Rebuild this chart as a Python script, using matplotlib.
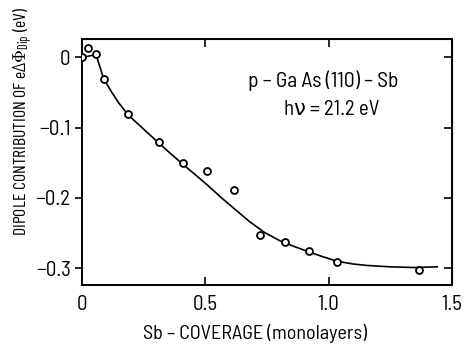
import matplotlib
matplotlib.use('Agg')
import matplotlib.pyplot as plt

# measured points
coverage = [0.0, 0.026, 0.057, 0.088, 0.188, 0.312, 0.409, 0.509, 0.617, 0.722, 0.823, 0.922, 1.034, 1.367]
dipole = [0.0, 0.014, 0.005, -0.031, -0.081, -0.121, -0.150, -0.162, -0.189, -0.253, -0.263, -0.275, -0.291, -0.302]

# hand-drawn fit curve
fit_x = [0.0, 0.03, 0.057, 0.072, 0.088, 0.12, 0.15, 0.188, 0.25, 0.312, 0.36, 0.409, 0.46, 0.51, 0.56, 0.62,
         0.681, 0.74, 0.803, 0.86, 0.922, 0.98, 1.034, 1.1, 1.154, 1.25, 1.35, 1.44]
fit_y = [0.0, 0.002, 0.004, -0.012, -0.030, -0.049, -0.065, -0.082, -0.102, -0.122, -0.137, -0.152, -0.167,
         -0.182, -0.198, -0.216, -0.234, -0.249, -0.261, -0.269, -0.277, -0.284, -0.290, -0.294, -0.296,
         -0.298, -0.299, -0.298]

x_ticks = [0, 0.5, 1.0, 1.5]
x_tick_labels = ['0', '0.5', '1.0', '1.5']
y_ticks = [0, -0.1, -0.2, -0.3]
y_tick_labels = ['0', '\u22120.1', '\u22120.2', '\u22120.3']

plt.rcParams['font.family'] = ['Barlow Semi Condensed', 'DejaVu Sans']
plt.rcParams['mathtext.fontset'] = 'custom'
plt.rcParams['mathtext.rm'] = 'Barlow Condensed'
plt.rcParams['mathtext.it'] = 'Barlow Condensed'

fig = plt.figure(figsize=(4.65, 3.46), dpi=100)
ax = fig.add_axes([0.176, 0.176, 0.796, 0.711])

ax.plot(fit_x, fit_y, color='black', lw=1.2, zorder=2)
ax.plot(coverage, dipole, 'o', mfc='white', mec='black', ms=5, mew=1.3, zorder=3)

ax.set_xlim(0, 1.5)
ax.set_ylim(-0.324, 0.026)
ax.set_xticks(x_ticks)
ax.set_xticklabels(x_tick_labels)
ax.set_yticks(y_ticks)
ax.set_yticklabels(y_tick_labels)
ax.tick_params(axis='y', direction='out', length=5, width=1.2, labelsize=15, pad=3)
ax.tick_params(axis='x', direction='in', length=6, width=1.2, labelsize=15, pad=7)

for s in ax.spines.values():
    s.set_linewidth(1.4)

top = ax.secondary_xaxis('top')
top.set_xticks(x_ticks)
top.tick_params(direction='in', length=6, width=1.2, labeltop=False)
right = ax.secondary_yaxis('right')
right.set_yticks(y_ticks)
right.tick_params(direction='in', length=6, width=1.2, labelright=False)

ax.text(0.652, 0.83, 'p \u2013 Ga As (110) \u2013 Sb', transform=ax.transAxes,
        ha='center', va='center', fontsize=15.5)
ax.text(0.675, 0.715, 'h\u03bd = 21.2 eV', transform=ax.transAxes,
        ha='center', va='center', fontsize=15)

fig.text(0.548, 0.036, 'Sb \u2013 COVERAGE (monolayers)', ha='center', va='center', fontsize=14.5)
fig.text(0.05, 0.648, r'DIPOLE CONTRIBUTION OF e$\Delta\Phi_{\mathrm{Dip}}$ (eV)',
         rotation=90, ha='center', va='center', fontsize=12.8,
         family=['Barlow Condensed', 'DejaVu Sans'])

fig.savefig('out.png', dpi=100)
